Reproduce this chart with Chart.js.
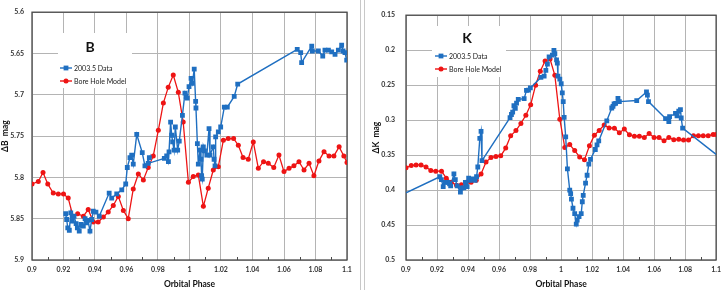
<!DOCTYPE html>
<html><head><meta charset="utf-8">
<script src="https://cdn.jsdelivr.net/npm/chart.js@4/dist/chart.umd.min.js"></script>
<style>
html,body{margin:0;padding:0;background:#fff;width:727px;height:290px;overflow:hidden;}
canvas{position:absolute;top:0;}
#c1{left:0;}
#c2{left:363px;}
.sep{position:absolute;top:0;height:290px;width:1px;background:#c8c8c8;}
</style></head><body>
<canvas id="c1" width="360" height="290"></canvas>
<div class="sep" style="left:360px"></div>
<div class="sep" style="left:364px"></div>
<canvas id="c2" width="364" height="290"></canvas>
<script>
// ---------- axis ticks ----------
const xTickValues = [0.9,0.92,0.94,0.96,0.98,1,1.02,1.04,1.06,1.08,1.1];
const xTickLabels = ['0.9','0.92','0.94','0.96','0.98','1','1.02','1.04','1.06','1.08','1.1'];
const xMinorTicks = [0.91,0.93,0.95,0.97,0.99,1.01,1.03,1.05,1.07,1.09];
const bTickValues = [5.6,5.65,5.7,5.75,5.8,5.85,5.9];
const bTickLabels = ['5.6','5.65','5.7','5.75','5.8','5.85','5.9'];
const kTickValues = [0.15,0.2,0.25,0.3,0.35,0.4,0.45,0.5];
const kTickLabels = ['0.15','0.2','0.25','0.3','0.35','0.4','0.45','0.5'];
const seriesNames = ['2003.5 Data','Bore Hole Model'];

// ---------- B band ----------
const bModelPhase = [0.9,0.904,0.907,0.910,0.9135,0.9167,0.920,0.923,0.926,0.929,0.9326,0.9357,0.939,0.942,0.9453,0.9484,0.9516,0.9548,0.958,0.9611,0.9643,0.9675,0.9707,0.9738,0.977,0.9802,0.9834,0.9865,0.9897,0.9929,0.996,0.9993,1.0024,1.0056,1.0088,1.0119,1.0151,1.0183,1.0215,1.0246,1.028,1.031,1.034,1.0373,1.0405,1.0437,1.047,1.050,1.0535,1.0568,1.060,1.0632,1.0663,1.0695,1.0727,1.0759,1.079,1.0822,1.0854,1.0886,1.0917,1.095,1.098,1.1];
const bModelMag = [5.808,5.805,5.794,5.808,5.819,5.820,5.820,5.825,5.847,5.844,5.847,5.839,5.854,5.854,5.848,5.842,5.834,5.823,5.840,5.850,5.814,5.796,5.803,5.788,5.774,5.743,5.710,5.691,5.676,5.697,5.733,5.806,5.799,5.797,5.835,5.813,5.791,5.787,5.755,5.753,5.753,5.761,5.776,5.778,5.757,5.789,5.781,5.783,5.788,5.773,5.793,5.789,5.786,5.781,5.791,5.783,5.798,5.780,5.769,5.774,5.774,5.763,5.774,5.782];
const bDataPhase = [0.9214,0.922,0.9227,0.9237,0.9246,0.9256,0.9267,0.928,0.9288,0.930,0.9311,0.9326,0.9337,0.9347,0.9356,0.9368,0.9379,0.9389,0.9406,0.9427,0.949,0.9506,0.9538,0.957,0.9595,0.9605,0.9622,0.9633,0.9643,0.9665,0.970,0.9717,0.9745,0.9738,0.984,0.9855,0.9866,0.987,0.988,0.9887,0.9893,0.9902,0.991,0.9925,0.9935,0.9955,0.9971,0.9978,0.9986,0.9997,1.001,1.0018,1.003,1.0039,1.0041,1.005,1.0056,1.0067,1.0073,1.0077,1.0081,1.0088,1.0095,1.011,1.0124,1.013,1.0151,1.0156,1.0162,1.0166,1.0183,1.0198,1.0221,1.024,1.0284,1.0306,1.0684,1.0706,1.0712,1.0776,1.078,1.0818,1.0846,1.086,1.0882,1.0903,1.0924,1.0945,1.0966,1.0975,1.0987,1.0998];
const bDataMag = [5.844,5.851,5.861,5.864,5.843,5.853,5.847,5.856,5.861,5.865,5.857,5.859,5.850,5.855,5.852,5.865,5.851,5.841,5.842,5.847,5.819,5.825,5.820,5.815,5.808,5.788,5.776,5.773,5.784,5.748,5.770,5.786,5.776,5.783,5.777,5.774,5.781,5.769,5.733,5.749,5.757,5.767,5.739,5.767,5.756,5.725,5.698,5.702,5.704,5.690,5.680,5.686,5.669,5.708,5.716,5.759,5.784,5.767,5.778,5.798,5.802,5.763,5.768,5.773,5.741,5.773,5.763,5.778,5.786,5.751,5.745,5.739,5.715,5.715,5.702,5.687,5.645,5.649,5.661,5.641,5.647,5.647,5.653,5.646,5.646,5.648,5.651,5.646,5.640,5.647,5.649,5.658];

// ---------- K band ----------
const kModelPhase = [0.9,0.9034,0.9065,0.9097,0.9129,0.916,0.9192,0.9229,0.926,0.9292,0.9326,0.9357,0.9389,0.942,0.9453,0.9484,0.9516,0.9548,0.958,0.9611,0.9643,0.9675,0.9709,0.9741,0.9773,0.9804,0.9836,0.9866,0.9897,0.9929,0.996,0.9992,1.0024,1.0056,1.0088,1.012,1.0151,1.0183,1.0215,1.0246,1.0278,1.031,1.0344,1.0376,1.0408,1.0441,1.0473,1.0505,1.0537,1.0568,1.06,1.0632,1.0664,1.0695,1.0727,1.0759,1.079,1.0822,1.0854,1.0886,1.0917,1.0949,1.0981,1.1];
const kModelMag = [0.368,0.365,0.364,0.364,0.367,0.372,0.373,0.373,0.383,0.389,0.393,0.3925,0.389,0.389,0.386,0.377,0.360,0.3535,0.352,0.351,0.340,0.3225,0.315,0.3047,0.293,0.278,0.250,0.230,0.2155,0.2127,0.236,0.2987,0.339,0.335,0.3435,0.3527,0.3568,0.3367,0.3216,0.3147,0.3069,0.3113,0.3115,0.318,0.3128,0.3211,0.323,0.323,0.3247,0.3192,0.3247,0.325,0.3294,0.325,0.328,0.3275,0.3284,0.3284,0.3225,0.3225,0.3225,0.3225,0.3206,0.3206];
const kDataPhase = [0.9,0.9218,0.9228,0.924,0.9252,0.927,0.9281,0.9288,0.9309,0.9318,0.933,0.9351,0.9358,0.9373,0.9383,0.9394,0.9404,0.9415,0.943,0.9445,0.9455,0.9463,0.9476,0.9484,0.949,0.9671,0.968,0.9688,0.9696,0.9705,0.9713,0.9724,0.9762,0.9777,0.979,0.9802,0.987,0.9891,0.9902,0.9912,0.9923,0.9944,0.9954,0.996,0.9971,0.9976,0.998,0.9992,1.0001,1.0008,1.0014,1.002,1.003,1.0041,1.0056,1.0062,1.0067,1.0077,1.0088,1.0098,1.0104,1.0116,1.013,1.0137,1.0143,1.0158,1.0168,1.0179,1.019,1.0221,1.0232,1.0243,1.0295,1.0327,1.0335,1.0342,1.0352,1.0367,1.0376,1.0488,1.0551,1.0557,1.0564,1.0674,1.0695,1.07,1.0738,1.0748,1.0759,1.077,1.0775,1.0784,1.1];
const kDataMag = [0.404,0.381,0.385,0.395,0.389,0.389,0.391,0.394,0.377,0.385,0.394,0.403,0.397,0.397,0.389,0.395,0.383,0.386,0.384,0.386,0.381,0.367,0.326,0.316,0.358,0.2965,0.292,0.2886,0.2795,0.283,0.2758,0.2703,0.2694,0.2575,0.257,0.254,0.239,0.237,0.229,0.220,0.2095,0.207,0.2003,0.205,0.214,0.2186,0.237,0.2415,0.248,0.261,0.2735,0.296,0.324,0.3696,0.400,0.405,0.413,0.426,0.4337,0.4488,0.443,0.438,0.4337,0.4167,0.4076,0.390,0.3788,0.3628,0.356,0.342,0.3353,0.3298,0.301,0.2827,0.2804,0.2767,0.276,0.269,0.2735,0.272,0.2598,0.2643,0.2735,0.2978,0.302,0.295,0.2904,0.294,0.2873,0.285,0.297,0.3115,0.349];

const BLUE = '#1f6fc1';
const RED = '#ee1414';
const FONT = "Lato, 'Open Sans', sans-serif";

function pairs(xs, ys){ return xs.map((x,i)=>({x:x, y:ys[i]})); }

const decoPlugin = {
  id: 'deco',
  beforeDatasetsDraw(chart, args, opts){
    const ctx = chart.ctx, a = chart.chartArea;
    ctx.save();
    ctx.fillStyle = '#fff';
    ctx.fillRect(opts.box[0], opts.box[1], opts.box[2], opts.box[3]);
    ctx.strokeStyle = '#4a4a4a';
    ctx.lineWidth = 1.3;
    ctx.strokeRect(a.left, a.top, a.right - a.left, a.bottom - a.top);
    const xs = chart.scales.x;
    ctx.lineWidth = 1;
    ctx.beginPath();
    xMinorTicks.forEach(v => {
      const px = Math.round(xs.getPixelForValue(v)) + 0.5;
      ctx.moveTo(px, a.bottom);
      ctx.lineTo(px, a.bottom - 3);
    });
    ctx.stroke();
    ctx.restore();
  },
  afterDatasetsDraw(chart, args, opts){
    const ctx = chart.ctx;
    ctx.save();
    ctx.fillStyle = '#111';
    ctx.font = "bold 14px " + FONT;
    ctx.textAlign = 'center';
    ctx.textBaseline = 'middle';
    ctx.fillText(opts.letter, opts.letterPos[0], opts.letterPos[1]);
    const cols = [BLUE, RED];
    const styles = ['rect', 'circle'];
    ctx.font = "7px " + FONT;
    ctx.textAlign = 'left';
    for (let i = 0; i < 2; i++) {
      const y = opts.legY[i];
      ctx.strokeStyle = cols[i];
      ctx.lineWidth = 1.4;
      ctx.beginPath();
      ctx.moveTo(opts.legX, y);
      ctx.lineTo(opts.legX + 12, y);
      ctx.stroke();
      ctx.fillStyle = cols[i];
      if (styles[i] === 'rect') ctx.fillRect(opts.legX + 3.6, y - 2.4, 4.8, 4.8);
      else { ctx.beginPath(); ctx.arc(opts.legX + 6, y, 2.5, 0, Math.PI*2); ctx.fill(); }
      ctx.fillStyle = '#222';
      ctx.fillText(seriesNames[i], opts.legX + 14, y + 0.5);
    }
    ctx.restore();
  }
};

function makeChart(id, cfg){
  const R = 3.4;
  const edgeless = ctx => {
    const r = ctx.raw;
    if (!r) return R;
    return (r.x <= 0.9 || r.x >= 1.1) ? 0 : R;
  };
  return new Chart(document.getElementById(id), {
    type: 'line',
    data: {
      datasets: [
        { label: seriesNames[0], data: pairs(cfg.dataX, cfg.dataY), borderColor: BLUE, backgroundColor: BLUE,
          borderWidth: 1.4, pointStyle: 'rect', pointRadius: cfg.clipEdges ? edgeless : R, pointBorderWidth: 0, tension: 0, order: 1 },
        { label: seriesNames[1], data: pairs(cfg.modelX, cfg.modelY), borderColor: RED, backgroundColor: RED,
          borderWidth: 1.3, pointStyle: 'circle', pointRadius: 2.5, pointBorderWidth: 0, tension: 0, order: 2 }
      ]
    },
    options: {
      responsive: false,
      animation: false,
      devicePixelRatio: 1,
      layout: { padding: cfg.padding },
      plugins: { legend: { display: false }, tooltip: { enabled: false },
        deco: { box: cfg.box, letter: cfg.letter, letterPos: cfg.letterPos, legX: cfg.legX, legY: cfg.legY } },
      scales: {
        x: {
          type: 'linear', min: 0.9, max: 1.1,
          afterBuildTicks: s => { s.ticks = xTickValues.map(v => ({value: v})); },
          afterFit: s => { s.height = 30; },
          ticks: { callback: (v, i) => xTickLabels[i], padding: 6, maxRotation: 0, autoSkip: false,
                   color: '#333', font: { family: FONT, size: 7, weight: 'bold' } },
          grid: { color: '#b4b4b4', lineWidth: 1, drawTicks: false },
          border: { display: false },
          title: { display: true, text: 'Orbital Phase', color: '#111', padding: { top: 0, bottom: 1 },
                   font: { family: FONT, size: 8.5, weight: 'bold' } }
        },
        y: {
          type: 'linear', reverse: true, min: cfg.yMin, max: cfg.yMax,
          afterBuildTicks: s => { s.ticks = cfg.yTicks.map(v => ({value: v})); },
          afterFit: s => { s.width = cfg.yWidth; },
          ticks: { callback: (v, i) => cfg.yLabels[i], padding: cfg.yTickPad, autoSkip: false,
                   color: '#333', font: { family: FONT, size: 7, weight: 'bold' } },
          grid: { color: '#b4b4b4', lineWidth: 1, drawTicks: false },
          border: { display: false },
          title: { display: true, text: cfg.yTitle, color: '#111', padding: 0,
                   font: { family: FONT, size: 8.5, weight: 'bold' } }
        }
      }
    },
    plugins: [decoPlugin]
  });
}

makeChart('c1', {
  dataX: bDataPhase, dataY: bDataMag, modelX: bModelPhase, modelY: bModelMag,
  yTicks: bTickValues, yLabels: bTickLabels, yMin: 5.6, yMax: 5.9, yTitle: '\u0394B  mag',
  padding: { left: 0, right: 13, top: 5, bottom: 0 }, yWidth: 32, yTickPad: 8, clipEdges: false,
  box: [58, 33, 74, 55], letter: 'B', letterPos: [90, 47], legX: 60, legY: [68, 81]
});
makeChart('c2', {
  dataX: kDataPhase, dataY: kDataMag, modelX: kModelPhase, modelY: kModelMag,
  yTicks: kTickValues, yLabels: kTickLabels, yMin: 0.15, yMax: 0.5, yTitle: '\u0394K  mag',
  padding: { left: 8, right: 6, top: 5, bottom: 0 }, yWidth: 35, yTickPad: 11, clipEdges: true,
  box: [69, 26, 74, 51], letter: 'K', letterPos: [104, 38], legX: 72, legY: [56, 69]
});
</script>
</body></html>
